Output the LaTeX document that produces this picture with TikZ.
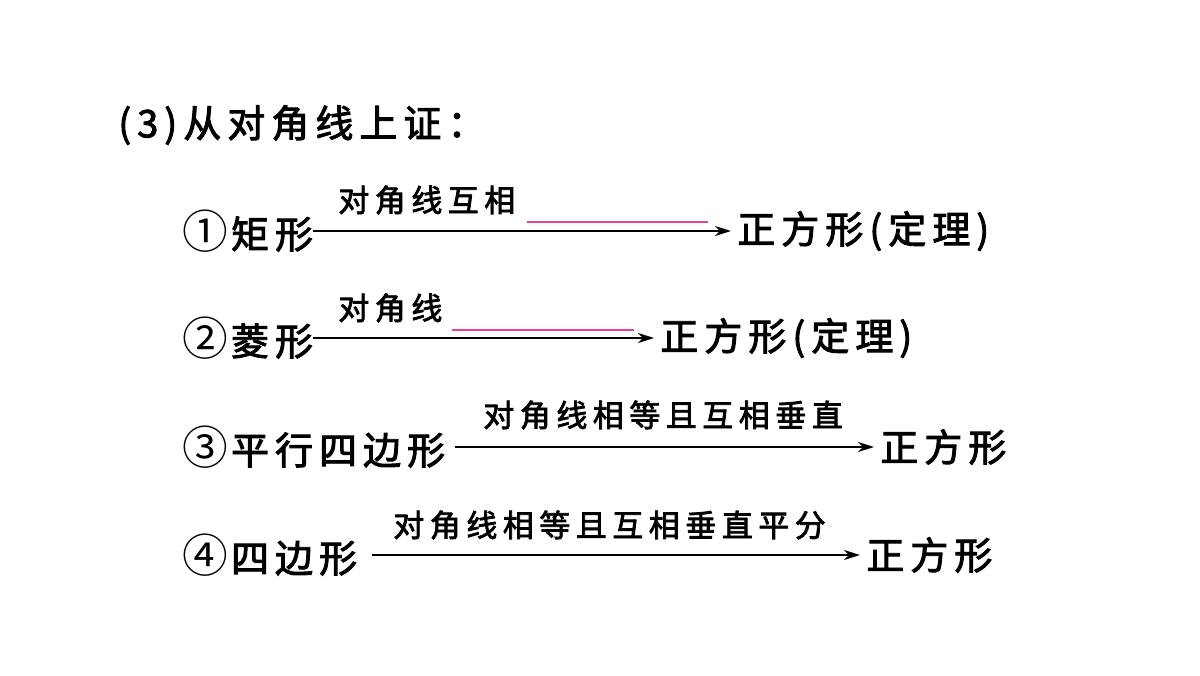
\documentclass[tikz,border=0pt]{standalone}
\usepackage{fontspec}
\setmainfont{Noto Sans CJK SC}[LetterSpace=16, FakeBold=2.5]
\newfontfamily\labelfont{Noto Sans CJK SC}[LetterSpace=18, FakeBold=2.5]
\newfontfamily\circfont{Noto Sans CJK SC}
\usepackage{tikz}
\usetikzlibrary{arrows.meta, positioning}
\definecolor{blankpink}{RGB}{232,64,152}
\newcommand{\circnum}[1]{{\circfont\fontsize{26}{26}\selectfont #1}\hspace{0.06cm}}

\begin{document}
\begin{tikzpicture}[
  item/.style={inner sep=0pt, anchor=west, font=\fontsize{21.6}{26}\selectfont},
  cond/.style={inner sep=0pt, anchor=west, font=\labelfont\fontsize{17.6}{21}\selectfont},
  imply/.style={-{Stealth[length=0.32cm,width=0.2cm,inset=0.1cm]}, line width=0.9pt, shorten >=0.12cm},
  blank/.style={blankpink, line width=0.7pt}
]
\useasboundingbox (0,0) rectangle (24,13.5);
\node[item] (title) at (2.36,11.0) {(3)从对角线上证：};

% rectangle
\node[item] (s1) at (3.64,8.88) {\circnum{①}矩形};
\node[item] (t1) at (14.74,8.88) {正方形(定理)};
\node[cond] (c1) at (6.76,9.5) {对角线互相};
\coordinate (b1a) at (10.54,9.06);
\coordinate (b1b) at (14.16,9.06);
\draw[imply] (s1) -- (t1);
\draw[blank] (b1a) -- (b1b);

% rhombus
\node[item] (s2) at (3.64,6.74) {\circnum{②}菱形};
\node[item] (t2) at (13.2,6.74) {正方形(定理)};
\node[cond] (c2) at (6.76,7.34) {对角线};
\coordinate (b2a) at (9.04,6.9);
\coordinate (b2b) at (12.68,6.9);
\draw[imply] (s2) -- (t2);
\draw[blank] (b2a) -- (b2b);

% parallelogram
\node[item] (s3) at (3.64,4.56) {\circnum{③}平行四边形};
\node[item] (t3) at (17.6,4.56) {正方形};
\node[cond] (c3) at (9.66,5.2) {对角线相等且互相垂直};
\draw[imply, shorten <=0.2cm] (s3) -- (t3);

% quadrilateral
\node[item] (s4) at (3.64,2.4) {\circnum{④}四边形};
\node[item] (t4) at (17.32,2.4) {正方形};
\node[cond] (c4) at (7.86,3.0) {对角线相等且互相垂直平分};
\draw[imply, shorten <=0.3cm] (s4) -- (t4);
\end{tikzpicture}
\end{document}
